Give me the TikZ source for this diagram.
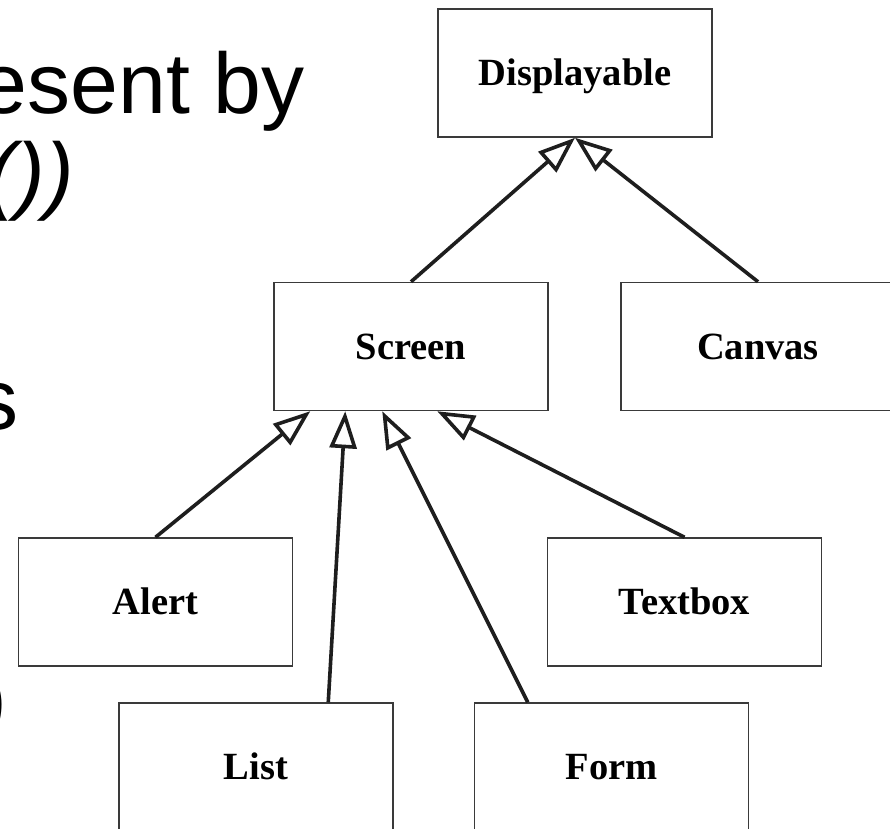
\documentclass[tikz,border=0pt]{standalone}
\usepackage{fontspec}
\setmainfont{Liberation Serif}
\newfontfamily\slidesans{Liberation Sans}
\usetikzlibrary{arrows.meta,calc}
\definecolor{boxgray}{HTML}{3A3A3A}
\definecolor{linegray}{HTML}{1E1E1E}
\begin{document}
\begin{tikzpicture}[x=1pt,y=-1pt,
  cls/.style={draw=boxgray, line width=1.5pt, minimum width=274pt, minimum height=128pt,
    inner sep=0pt, text height=25pt, text depth=0pt,
    font=\bfseries\fontsize{38.5}{40}\selectfont},
  gen/.style={line width=3.6pt, draw=linegray,
    -{Triangle[open, length=37pt, width=27pt, fill=white]}},
  frag/.style={inner sep=0pt, font=\slidesans\fontsize{86}{90}\selectfont},
  fragit/.style={inner sep=0pt, font=\slidesans\itshape\fontsize{86}{90}\selectfont}]
\useasboundingbox (0,0) rectangle (890,828);
\clip (0,0) rectangle (890,828);
\fill[white] (0,0) rectangle (890,828);

% slide text fragments
\node[frag, anchor=base east] (t1) at (305,113) {esent by};
\node[fragit, anchor=base east] (t2) at (74,203) {())};
\node[frag, anchor=base east] (t3) at (19,429) {s};
\node[fragit, anchor=base east] (t4) at (7,737) {)};

% classes
\node[cls] (Displayable) at (575,73) {Displayable};
\node[cls] (Screen) at (411,346.5) {Screen};
\node[cls] (Canvas) at (758,346.5) {Canvas};
\node[cls] (Alert) at (155.5,602) {Alert};
\node[cls] (Textbox) at (684.5,602) {Textbox};
\node[cls] (List) at (256,767) {List};
\node[cls] (Form) at (611.5,767) {Form};

% generalizations
\draw[gen] (Screen.north) -- (Displayable.south);
\draw[gen] (Canvas.north) -- (Displayable.south);
\draw[gen] (Alert.north) -- ($(Screen.south west)+(37,0)$);
\draw[gen] ($(List.north west)+(210,0)$) -- ($(Screen.south west)+(72,0)$);
\draw[gen] ($(Form.north west)+(54,0)$) -- ($(Screen.south west)+(109,0)$);
\draw[gen] (Textbox.north) -- ($(Screen.south west)+(164,0)$);
\end{tikzpicture}
\end{document}
